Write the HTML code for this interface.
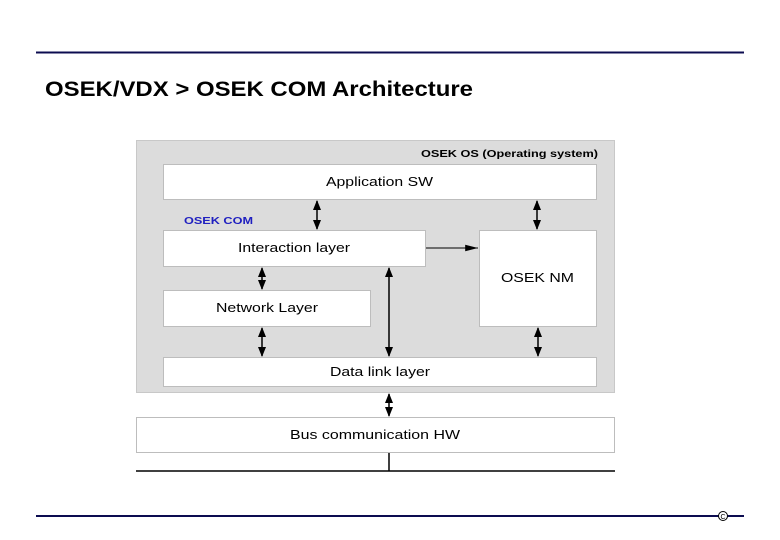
<!DOCTYPE html>
<html><head><meta charset="utf-8"><style>
body{margin:0;background:#fff;width:780px;height:540px;overflow:hidden}
svg{display:block}
text{font-family:"Liberation Sans",sans-serif}
</style></head><body>
<svg width="780" height="540" viewBox="0 0 780 540" xmlns="http://www.w3.org/2000/svg">
<defs>
<marker id="a" viewBox="0 0 10 10" refX="9" refY="5" markerWidth="10" markerHeight="10" markerUnits="userSpaceOnUse" orient="auto-start-reverse"><path d="M0,1 L10,5 L0,9 z" fill="#000"/></marker>
<marker id="h" viewBox="0 0 16 10" refX="16" refY="5" markerWidth="16" markerHeight="8" markerUnits="userSpaceOnUse" orient="auto"><path d="M0,1 L16,5 L0,9 z" fill="#000"/></marker>
</defs>
<line x1="36" y1="52.5" x2="744" y2="52.5" stroke="#0c0c50" stroke-width="2"/>
<line x1="36" y1="516" x2="744" y2="516" stroke="#0c0c50" stroke-width="2"/>
<circle cx="723" cy="516" r="4.5" fill="#fff" stroke="#000" stroke-width="1"/>
<text x="723" y="519" font-size="7" text-anchor="middle">C</text>
<text x="45" y="96" font-size="21.5" font-weight="bold" fill="#000" textLength="428" lengthAdjust="spacingAndGlyphs">OSEK/VDX &gt; OSEK COM Architecture</text>
<rect x="136.5" y="140.5" width="478" height="252" fill="#dcdcdc" stroke="#c8c8c8"/>
<text x="421" y="157" font-size="10" font-weight="bold" textLength="177" lengthAdjust="spacingAndGlyphs">OSEK OS (Operating system)</text>
<g fill="#fff" stroke="#bdbdbd">
<rect x="163.5" y="164.5" width="433" height="35"/>
<rect x="163.5" y="230.5" width="262" height="36"/>
<rect x="163.5" y="290.5" width="207" height="36"/>
<rect x="479.5" y="230.5" width="117" height="96"/>
<rect x="163.5" y="357.5" width="433" height="29"/>
<rect x="136.5" y="417.5" width="478" height="35"/>
</g>
<text x="184" y="224" font-size="10" font-weight="bold" fill="#2020c0" textLength="69" lengthAdjust="spacingAndGlyphs">OSEK COM</text>
<g font-size="12.5">
<text x="326" y="186" textLength="107" lengthAdjust="spacingAndGlyphs">Application SW</text>
<text x="238" y="252" textLength="112" lengthAdjust="spacingAndGlyphs">Interaction layer</text>
<text x="216" y="312" textLength="102" lengthAdjust="spacingAndGlyphs">Network Layer</text>
<text x="501" y="282" textLength="73" lengthAdjust="spacingAndGlyphs">OSEK NM</text>
<text x="330" y="376" textLength="100" lengthAdjust="spacingAndGlyphs">Data link layer</text>
<text x="290" y="439" textLength="170" lengthAdjust="spacingAndGlyphs">Bus communication HW</text>
</g>
<g stroke="#000" stroke-width="1.5" marker-start="url(#a)" marker-end="url(#a)">
<line x1="317" y1="201" x2="317" y2="229"/>
<line x1="537" y1="201" x2="537" y2="229"/>
<line x1="262" y1="268" x2="262" y2="289"/>
<line x1="262" y1="328" x2="262" y2="356"/>
<line x1="389" y1="268" x2="389" y2="356"/>
<line x1="538" y1="328" x2="538" y2="356"/>
<line x1="389" y1="394" x2="389" y2="416"/>
</g>
<line x1="426" y1="248" x2="478" y2="248" stroke="#000" stroke-width="1" marker-end="url(#h)"/>
<line x1="389" y1="453" x2="389" y2="471" stroke="#000" stroke-width="1.5"/>
<line x1="136" y1="471" x2="615" y2="471" stroke="#000" stroke-width="1.5"/>
</svg>
</body></html>
